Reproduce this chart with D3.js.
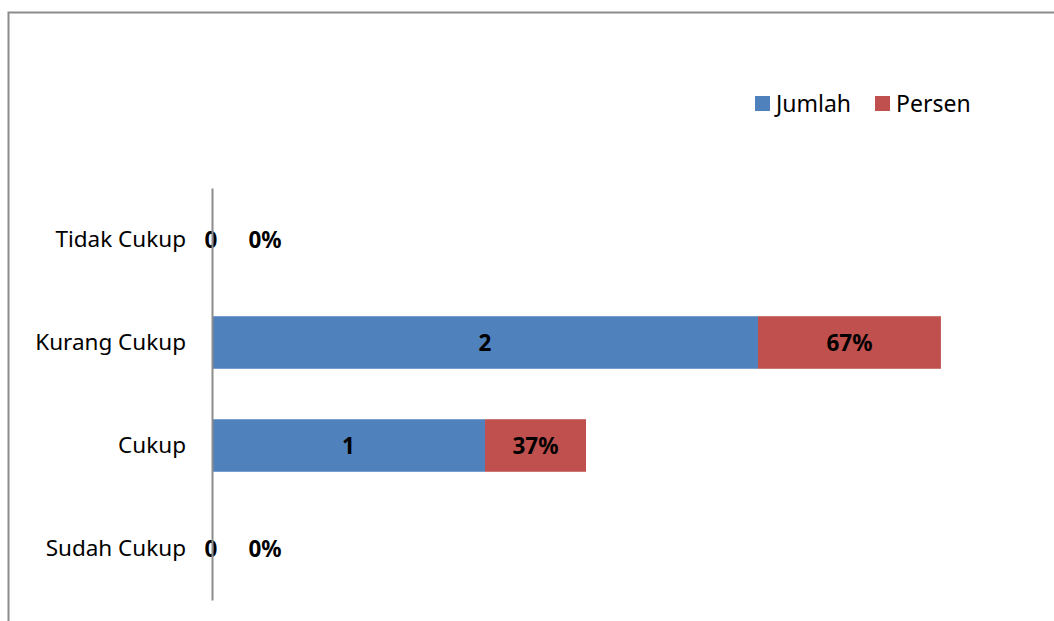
<!DOCTYPE html>
<html lang="en"><head>
<meta charset="utf-8">
<title>Jumlah dan Persen</title>
<script src="https://cdn.jsdelivr.net/npm/d3@7"></script>
<style>
  body { margin: 0; background: #fff; }
  text { font-family: "Noto Sans", "Open Sans", sans-serif; }
</style>
</head>
<body>
<script type="text/javascript">

var width = 1054;
var height = 621;

// data
var categories = ["Tidak Cukup", "Kurang Cukup", "Cukup", "Sudah Cukup"];
var jumlah = [0, 2, 1, 0];
var persen = [0, 0.67, 0.37, 0];
var seriesNames = ["Jumlah", "Persen"];
var colors = ["#4F81BD", "#C0504D"];

var svg = d3.select("body").append("svg")
            .attr("width", width)
            .attr("height", height);

// outer frame
svg.append("rect")
    .attr("x", 8.5).attr("y", 12.5)
    .attr("width", width + 10).attr("height", height + 10)
    .attr("fill", "none")
    .attr("stroke", "#8c8c8c")
    .attr("stroke-width", 2);

var x = d3.scaleLinear().domain([0, 3]).range([212, 1031]);
var y = d3.scaleBand().domain(categories).range([188, 600]).paddingInner(0.49).paddingOuter(0.245);

var rows = categories.map(function(c, i) {
    return { cat: c, Jumlah: jumlah[i], Persen: persen[i] };
});
var stacked = d3.stack().keys(seriesNames)(rows);

var fmt = [d3.format("d"), d3.format(".0%")];

stacked.forEach(function(layer, li) {
    var g = svg.append("g");
    g.selectAll("rect")
        .data(layer)
        .enter()
        .append("rect")
        .attr("x", function(d) { return x(d[0]); })
        .attr("y", function(d) { return y(d.data.cat); })
        .attr("width", function(d) { return x(d[1]) - x(d[0]); })
        .attr("height", y.bandwidth())
        .attr("fill", colors[li]);

    g.selectAll("text")
        .data(layer)
        .enter()
        .append("text")
        .attr("x", function(d) {
            var w = x(d[1]) - x(d[0]);
            if (w < 1) return x(d[0]) + (li === 0 ? -1 : 53);
            return (x(d[0]) + x(d[1])) / 2;
        })
        .attr("y", function(d) { return y(d.data.cat) + y.bandwidth() / 2; })
        .attr("dy", "0.36em")
        .attr("text-anchor", "middle")
        .attr("font-size", 22.5)
        .attr("font-weight", "bold")
        .attr("fill", "#000")
        .text(function(d) { return fmt[li](d.data[seriesNames[li]]); });
});

// category axis
var yAxis = svg.append("g")
    .attr("transform", "translate(" + x(0) + ",0)")
    .call(d3.axisLeft(y).tickSize(0).tickPadding(26));
yAxis.select(".domain").attr("stroke", "#8c8c8c").attr("stroke-width", 2);
yAxis.selectAll("text").attr("font-size", 22.5).attr("fill", "#000")
    .style("font-family", "'Noto Sans', sans-serif");

// legend
var legend = svg.append("g").attr("transform", "translate(755,96)");
var lx = [0, 120];
seriesNames.forEach(function(name, i) {
    legend.append("rect")
        .attr("x", lx[i]).attr("y", 0)
        .attr("width", 15).attr("height", 15)
        .attr("fill", colors[i]);
    legend.append("text")
        .attr("x", lx[i] + 21).attr("y", 7.5)
        .attr("dy", "0.36em")
        .attr("font-size", 23)
        .attr("fill", "#000")
        .text(name);
});

</script>
</body></html>
